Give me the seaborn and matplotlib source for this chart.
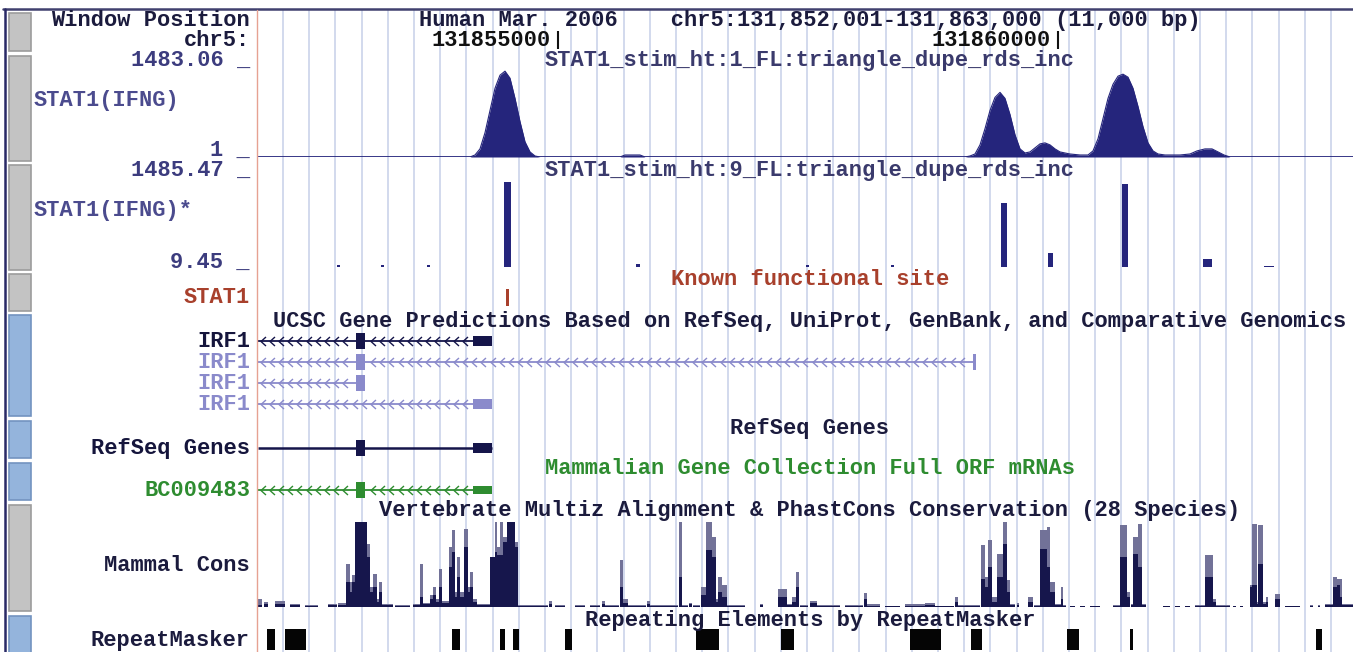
import numpy as np
import matplotlib
matplotlib.use("Agg")
import matplotlib.pyplot as plt
import seaborn as sns
import pandas as pd
from matplotlib.patches import Rectangle
from matplotlib.lines import Line2D
from matplotlib.path import Path

sns.set_theme(style="white")
plt.rcParams['font.family'] = ['Liberation Mono', 'DejaVu Sans Mono']

# ------------------------------------------------------------------ data
WIN_START = 131852000          # chr5 coordinate at left edge of data area
VIEW_SPAN = 10950              # bp visible in the picture
header_db = "Human Mar. 2006"
header_pos = "chr5:131,852,001-131,863,000 (11,000 bp)"
ruler_ticks = [131855000, 131860000]

# STAT1(IFNG) density profile: offset (bp from WIN_START), value
sig1_title = "STAT1_stim_ht:1_FL:triangle_dupe_rds_inc"
sig1_range = (1, 1483.06)
sig1_off = [0, 2120, 2170, 2220, 2270, 2320, 2370, 2420, 2470, 2520, 2570, 2620, 2670, 2720, 2770,
            2820, 3620, 3670, 3820, 3870,
            7070, 7120, 7170, 7220, 7270, 7320, 7370, 7420, 7470, 7520, 7570, 7620, 7670, 7720,
            7770, 7820, 7870, 7920, 7970, 8020, 8070, 8120,
            8220, 8300, 8350, 8400, 8450, 8500, 8550, 8600, 8650, 8700, 8750, 8800, 8850, 8900,
            8950, 9000, 9070,
            9220, 9320, 9390, 9470, 9540, 9600, 9660, 9720, 10950]
sig1_val = [1, 1, 33, 130, 388, 742, 1096, 1305, 1369, 1257, 935, 565, 243, 82, 17,
            1, 1, 33, 33, 1,
            1, 17, 49, 194, 452, 742, 951, 1031, 935, 677, 355, 130, 65, 82,
            146, 210, 226, 194, 130, 82, 65, 49,
            33, 33, 98, 291, 613, 935, 1160, 1289, 1321, 1273, 1096, 806, 484, 226,
            98, 49, 33,
            33, 49, 98, 130, 130, 82, 33, 1, 1]

# STAT1(IFNG)* bars
sig2_title = "STAT1_stim_ht:9_FL:triangle_dupe_rds_inc"
sig2_range = (9.45, 1485.47)
sig2_off = [800, 1240, 1700, 2490, 3800, 5490, 6340, 7460, 7920, 8670, 9490, 10110]
sig2_width = [30, 30, 30, 70, 40, 30, 30, 60, 50, 60, 90, 100]
sig2_val = [45, 45, 45, 1357, 60, 40, 40, 1020, 234, 1325, 138, 30]

# STAT1 known functional site
site_off = [2480]
site_width = [30]

# UCSC genes (IRF1 isoforms)
ucsc_names = ["IRF1", "IRF1", "IRF1", "IRF1"]
ucsc_tx = [(0, 2340), (0, 7170), (0, 1070), (0, 2340)]
ucsc_exons = [[(975, 1065), (2150, 2340)], [(975, 1065), (7150, 7180)],
              [(975, 1070)], [(2150, 2340)]]
refseq_tx = (0, 2340)
refseq_exons = [(975, 1065), (2150, 2340)]
mgc_name = "BC009483"
mgc_tx = (0, 2340)
mgc_exons = [(975, 1065), (2150, 2340)]

# Mammal conservation: start, end (offset bp), mean and max score (0..1)
cons_start = [0, 60, 170, 320, 470, 700, 800, 880, 920, 940, 970, 1090, 1120, 1150, 1190, 1210,
              1240, 1370, 1550, 1620, 1650, 1720, 1750, 1780, 1810, 1840, 1910, 1940, 1970, 1990,
              2020, 2060, 2100, 2120, 2150, 2190, 2320, 2370, 2390, 2420, 2450, 2490, 2570, 2600,
              2910, 2970, 3170, 3320, 3440, 3470, 3620, 3650, 3700, 3890, 3920, 4210, 4240, 4310,
              4350, 4430, 4480, 4540, 4580, 4600, 4640, 4690, 5020, 5200, 5290, 5340, 5380, 5420,
              5520, 5590, 5870, 6060, 6090, 6270, 6470, 6670, 6770, 6970, 7000, 7230, 7270, 7300,
              7340, 7390, 7450, 7490, 7520, 7590, 7700, 7760, 7820, 7890, 7920, 7970, 8030, 8050,
              8120, 8220, 8320, 8550, 8620, 8690, 8730, 8750, 8800, 8840, 9050, 9170, 9270, 9370,
              9470, 9550, 9580, 9750, 9820, 9920, 9940, 9990, 10000, 10050, 10080, 10170, 10270,
              10520, 10600, 10670, 10750, 10790, 10820, 10840]
cons_end = [40, 100, 270, 420, 600, 790, 880, 920, 940, 970, 1090, 1120, 1150, 1190, 1210, 1240,
            1350, 1520, 1620, 1650, 1720, 1750, 1780, 1810, 1840, 1910, 1940, 1970, 1990, 2020,
            2060, 2100, 2120, 2150, 2190, 2320, 2370, 2390, 2420, 2450, 2490, 2570, 2600, 2900,
            2940, 3070, 3270, 3420, 3470, 3610, 3650, 3700, 3880, 3920, 4200, 4240, 4300, 4340,
            4420, 4480, 4540, 4580, 4600, 4640, 4690, 4870, 5050, 5290, 5340, 5380, 5410, 5500,
            5590, 5820, 6050, 6090, 6220, 6420, 6670, 6770, 6960, 7000, 7220, 7270, 7300, 7340,
            7390, 7450, 7490, 7520, 7570, 7610, 7750, 7820, 7890, 7920, 7970, 8030, 8050, 8080,
            8170, 8270, 8420, 8620, 8690, 8720, 8750, 8800, 8840, 8880, 9120, 9220, 9320, 9470,
            9550, 9580, 9720, 9780, 9850, 9940, 9990, 10000, 10050, 10080, 10100, 10220, 10420,
            10550, 10620, 10750, 10790, 10820, 10840, 10950]
cons_mean = [0.02, 0.04, 0.04, 0.02, 0.01, 0.02, 0.02, 0.29, 0.18, 0.29, 1.0, 0.59, 0.18, 0.24, 0.06, 0.18,
             0.02, 0.01, 0.02, 0.12, 0.04, 0.09, 0.14, 0.06, 0.24, 0.05, 0.47, 0.65, 0.12, 0.35,
             0.12, 0.71, 0.18, 0.24, 0.06, 0.02, 0.59, 0.65, 0.61, 0.61, 0.76, 1.0, 0.71, 0.01,
             0.04, 0.01, 0.01, 0.01, 0.04, 0.01, 0.24, 0.05, 0.01, 0.04, 0.01, 0.35, 0.01, 0.04,
             0.01, 0.14, 0.67, 0.59, 0.06, 0.18, 0.12, 0.01, 0.02, 0.12, 0.02, 0.06, 0.24, 0.01,
             0.05, 0.01, 0.01, 0.09, 0.01, 0.01, 0.01, 0.02, 0.01, 0.06, 0.01, 0.33, 0.24, 0.47,
             0.06, 0.35, 0.74, 0.18, 0.02, 0.02, 0.06, 0.01, 0.68, 0.47, 0.18, 0.02, 0.09, 0.01,
             0.01, 0.01, 0.01, 0.01, 0.59, 0.12, 0.02, 0.62, 0.47, 0.02, 0.01, 0.01, 0.01, 0.01,
             0.35, 0.06, 0.01, 0.01, 0.01, 0.24, 0.26, 0.04, 0.51, 0.04, 0.06, 0.09, 0.01,
             0.01, 0.01, 0.02, 0.24, 0.26, 0.12, 0.02]
cons_max = [0.09, 0.06, 0.07, 0.04, 0.02, 0.04, 0.05, 0.51, 0.29, 0.38, 1.0, 0.74, 0.24, 0.39, 0.09, 0.29,
            0.04, 0.02, 0.04, 0.51, 0.05, 0.14, 0.24, 0.09, 0.45, 0.07, 0.71, 0.91, 0.18, 0.59,
            0.18, 0.92, 0.24, 0.41, 0.09, 0.04, 0.59, 1.0, 0.71, 1.0, 0.82, 1.0, 0.76, 0.02,
            0.07, 0.02, 0.02, 0.02, 0.07, 0.02, 0.55, 0.09, 0.02, 0.07, 0.02, 1.0, 0.02, 0.05,
            0.02, 0.24, 1.0, 0.82, 0.09, 0.35, 0.26, 0.02, 0.04, 0.21, 0.04, 0.12, 0.41, 0.02,
            0.07, 0.02, 0.02, 0.16, 0.04, 0.01, 0.04, 0.05, 0.01, 0.12, 0.02, 0.73, 0.35, 0.79,
            0.12, 0.62, 1.0, 0.32, 0.04, 0.05, 0.12, 0.02, 0.91, 0.94, 0.29, 0.04, 0.24, 0.02,
            0.01, 0.01, 0.01, 0.02, 0.96, 0.18, 0.04, 0.82, 0.98, 0.04, 0.01, 0.01, 0.01, 0.02,
            0.61, 0.09, 0.02, 0.01, 0.01, 0.26, 0.98, 0.06, 0.96, 0.06, 0.12, 0.15, 0.01,
            0.02, 0.02, 0.04, 0.35, 0.33, 0.33, 0.04]

# RepeatMasker elements (offset bp)
rmsk_start = [90, 270, 1940, 2420, 2550, 3070, 4380, 5230, 6520, 7130, 8090, 8720, 10580]
rmsk_end = [170, 480, 2020, 2470, 2610, 3140, 4610, 5360, 6830, 7240, 8210, 8750, 10640]

# ------------------------------------------------------------------ style
W, H, DPI = 1353, 652, 100
FS = 15.8
C_DARK = '#1b1b3d'
C_LBL = '#3c3c7e'
C_TTL = '#3a3a6c'
C_NAVY = '#25257c'
C_RED = '#a8402c'
C_LIGHT = '#8a8acb'
C_GREEN = '#2e8c30'
C_GRID = '#cfd7ec'

fig = plt.figure(figsize=(W / DPI, H / DPI), dpi=DPI)
fig.patch.set_facecolor('white')

X0, X1 = 258, 1353


def px_axes(y0, y1, x0=X0, x1=X1):
    ax = fig.add_axes([x0 / W, 1 - y1 / H, (x1 - x0) / W, (y1 - y0) / H])
    ax.set_xlim(WIN_START, WIN_START + VIEW_SPAN)
    ax.patch.set_alpha(0)
    ax.axis('off')
    return ax


def ftext(x, y, s, ha='right', color=C_DARK, **kw):
    fig.text(x / W, 1 - y / H, s, ha=ha, va='baseline', color=color,
             fontsize=FS, fontweight='bold', **kw)


def frect(x0, y0, x1, y1, fc, ec):
    fig.add_artist(Rectangle((x0 / W, 1 - y1 / H), (x1 - x0) / W, (y1 - y0) / H,
                             transform=fig.transFigure, facecolor=fc, edgecolor=ec, lw=1.2))


# background guidelines
gax = px_axes(10, H)
gax.set_ylim(0, 1)
guides = np.arange(WIN_START + 250, WIN_START + VIEW_SPAN, 262)
gax.vlines(guides, 0, 1, color=C_GRID, lw=1.3)

# borders, separator and side buttons
fig.add_artist(Line2D([3 / W, 1], [1 - 9 / H, 1 - 9 / H], transform=fig.transFigure,
                      color='#40406e', lw=1.8))
fig.add_artist(Line2D([4.5 / W, 4.5 / W], [0, 1 - 9 / H], transform=fig.transFigure,
                      color='#2a2a66', lw=1.8))
fig.add_artist(Line2D([256.5 / W, 256.5 / W], [0, 1 - 10 / H], transform=fig.transFigure,
                      color='#e6a292', lw=1.0))
buttons = [(13, 51, 'g'), (56, 161, 'g'), (165, 270, 'g'), (274, 311, 'g'), (315, 416, 'b'),
           (421, 458, 'b'), (463, 500, 'b'), (505, 611, 'g'), (616, 660, 'b')]
for y0, y1, kind in buttons:
    if kind == 'g':
        frect(9, y0, 31, y1, '#c3c3c3', '#9c9c9c')
    else:
        frect(9, y0, 31, y1, '#94b4dc', '#7393c0')

# header
ftext(250, 26, "Window Position")
ftext(250, 46, "chr5:")
ftext(810, 26, header_db + "    " + header_pos, ha='center')
rax = px_axes(31, 49)
rax.set_ylim(0, 1)
rax.vlines(ruler_ticks, 0, 1, color='#111111', lw=1.5)
for t in ruler_ticks:
    rax.text(t - 70, 0.18, str(t), ha='right', va='baseline', color='#111111',
             fontsize=FS, fontweight='bold')

# track 1: STAT1(IFNG) density
ax1 = px_axes(64, 157)
ax1.set_ylim(*sig1_range)
prof = pd.DataFrame({'pos': np.array(sig1_off) + WIN_START, 'val': sig1_val})
ax1.fill_between(prof['pos'], sig1_range[0], prof['val'], color=C_NAVY, lw=0)
sns.lineplot(data=prof, x='pos', y='val', ax=ax1, color=C_NAVY, lw=0.8, legend=False)
ax1.axhline(sig1_range[0], color=C_NAVY, lw=1.8)
ax1.set_ylim(*sig1_range)
ax1.axis('off')
ftext(250, 66, "1483.06 _", color=C_LBL)
ftext(250, 156, "1 _", color=C_LBL)
ftext(34, 106, "STAT1(IFNG)", ha='left', color='#4b4b8e')
ftext(810, 66, sig1_title, ha='center', color=C_TTL)

# track 2: STAT1(IFNG)* bars
ax2 = px_axes(174, 267)
ax2.set_ylim(*sig2_range)
ax2.bar(np.array(sig2_off) + WIN_START, np.array(sig2_val) - sig2_range[0],
        width=sig2_width, bottom=sig2_range[0], color=C_NAVY, lw=0)
ftext(250, 176, "1485.47 _", color=C_LBL)
ftext(250, 268, "9.45 _", color=C_LBL)
ftext(34, 216, "STAT1(IFNG)*", ha='left', color='#4b4b8e')
ftext(810, 176, sig2_title, ha='center', color=C_TTL)

# track 3: known site
ax3 = px_axes(289, 306)
ax3.set_ylim(0, 1)
ax3.bar(np.array(site_off) + WIN_START, 1, width=site_width, align='edge', color=C_RED, lw=0)
ftext(250, 303, "STAT1", color=C_RED)
ftext(810, 285, "Known functional site", ha='center', color=C_RED)

# gene drawing helper
chev = Path([(0.55, 1.0), (-0.55, 0.0), (0.55, -1.0)], [Path.MOVETO, Path.LINETO, Path.LINETO])


def draw_gene(ax, row, tx, exons, color, heights, chevrons=True, lw=1.3):
    ax.hlines(row, tx[0] + WIN_START, tx[1] + WIN_START, color=color, lw=lw)
    for (s, e), h in zip(exons, heights):
        ax.bar(s + WIN_START, h, width=e - s, bottom=row - h / 2, align='edge', color=color, lw=0)
    if chevrons:
        xs = np.arange(tx[0] + 45, tx[1] - 25, 92)
        xs = [x + WIN_START for x in xs if not any(s - 30 <= x <= e + 30 for s, e in exons)]
        ax.plot(xs, [row] * len(xs), linestyle='none', marker=chev, markersize=6.5,
                markerfacecolor='none', markeredgecolor=color, markeredgewidth=1.0)


# track 4: UCSC genes
ax4 = px_axes(330.5, 414.5)
ax4.set_ylim(len(ucsc_names) - 0.5, -0.5)
for i, (name, tx, ex) in enumerate(zip(ucsc_names, ucsc_tx, ucsc_exons)):
    col = '#15154a' if i == 0 else C_LIGHT
    hts = [0.72 if (e - s) < 120 else 0.5 for s, e in ex]
    draw_gene(ax4, i, tx, ex, col, hts)
    ftext(250, 347 + 21 * i, name, color='#15153c' if i == 0 else C_LIGHT)
ftext(810, 327, "UCSC Gene Predictions Based on RefSeq, UniProt, GenBank, and Comparative Genomics",
      ha='center', color=C_DARK)

# track 5: RefSeq
ax5 = px_axes(437.5, 458.5)
ax5.set_ylim(0.5, -0.5)
draw_gene(ax5, 0, refseq_tx, refseq_exons, '#15154a', [0.72, 0.5], chevrons=False, lw=1.8)
ftext(250, 454, "RefSeq Genes", color='#15153c')
ftext(810, 434, "RefSeq Genes", ha='center', color=C_DARK)

# track 6: MGC
ax6 = px_axes(479.5, 500.5)
ax6.set_ylim(0.5, -0.5)
draw_gene(ax6, 0, mgc_tx, mgc_exons, C_GREEN, [0.72, 0.42])
ftext(250, 496, mgc_name, color=C_GREEN)
ftext(810, 474, "Mammalian Gene Collection Full ORF mRNAs", ha='center', color=C_GREEN)

# track 7: conservation
ax7 = px_axes(522, 607)
ax7.set_ylim(0, 1)
cs = np.array(cons_start) + WIN_START
cw = np.array(cons_end) - np.array(cons_start)
ax7.bar(cs, cons_max, width=cw, align='edge', color='#727298', lw=0)
ax7.bar(cs, cons_mean, width=cw, align='edge', color='#16164c', lw=0)
ftext(250, 571, "Mammal Cons", color=C_DARK)
ftext(810, 516, "Vertebrate Multiz Alignment & PhastCons Conservation (28 Species)",
      ha='center', color=C_DARK)

# track 8: RepeatMasker
ax8 = px_axes(629, 650)
ax8.set_ylim(0, 1)
rs = np.array(rmsk_start) + WIN_START
ax8.bar(rs, 1, width=np.array(rmsk_end) - np.array(rmsk_start), align='edge', color='#050505', lw=0)
ftext(250, 646, "RepeatMasker", color=C_DARK)
ftext(810, 626, "Repeating Elements by RepeatMasker", ha='center', color=C_DARK)

fig.savefig("out.png", dpi=DPI, facecolor='white')
